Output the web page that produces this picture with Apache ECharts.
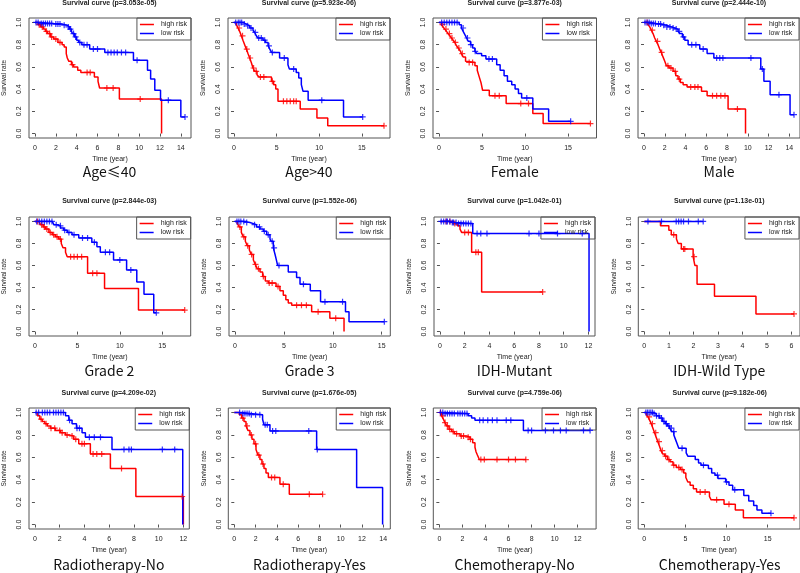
<!DOCTYPE html>
<html><head><meta charset="utf-8">
<script src="https://cdn.jsdelivr.net/npm/echarts@6/dist/echarts.min.js"></script>
<style>html,body{margin:0;padding:0;background:#fff}#c{width:800px;height:573px}</style>
</head><body><div id="c"></div><script>
// ---- labels ----
const panelLabels = ['Age≤40','Age>40','Female','Male','Grade 2','Grade 3','IDH-Mutant','IDH-Wild Type','Radiotherapy-No','Radiotherapy-Yes','Chemotherapy-No','Chemotherapy-Yes'];
const pValues = ['3.053e-05','5.923e-06','3.877e-03','2.444e-10','2.844e-03','1.552e-06','1.042e-01','1.13e-01','4.209e-02','1.676e-05','4.759e-06','9.182e-06'];
const seriesNames = ['high risk','low risk'];
const yTicks = [0,0.2,0.4,0.6,0.8,1.0];
const xTicks = [
  [0,2,4,6,8,10,12,14],[0,5,10,15],[0,5,10,15],[0,2,4,6,8,10,12,14],
  [0,5,10,15],[0,5,10,15],[0,2,4,6,8,10,12],[0,1,2,3,4,5,6],
  [0,2,4,6,8,10,12],[0,2,4,6,8,10,12,14],[0,2,4,6,8,10,12],[0,5,10,15]
];

// ---- survival curves [time, survival] ----
const ageLE40High = [[0,1],[0.3,0.98],[0.55,0.96],[0.8,0.94],[1.0,0.92],[1.2,0.9],[1.5,0.87],[1.8,0.85],[2.2,0.82],[2.6,0.8],[2.8,0.78],[3.0,0.72],[3.1,0.68],[3.25,0.65],[3.5,0.62],[3.7,0.6],[4.1,0.57],[4.4,0.55],[5.7,0.51],[6.05,0.47],[6.2,0.41],[8.1,0.31],[12.15,0.0]];
const ageLE40HighCens = [0.4,0.7,1.1,1.4,1.6,2.0,2.4,3.6,5.0,5.3,6.9,7.5,10.1];
const ageLE40Low = [[0,1],[0.5,0.99],[1.8,0.985],[2.6,0.975],[3.1,0.96],[3.3,0.94],[3.5,0.92],[3.6,0.9],[3.8,0.87],[4.0,0.84],[4.2,0.82],[4.5,0.8],[5.25,0.76],[6.7,0.73],[9.45,0.66],[10.8,0.57],[11.1,0.49],[11.5,0.39],[12.05,0.3],[14.0,0.15],[14.4,0.15]];
const ageLE40LowCens = [0.1,0.3,0.6,0.8,1.0,1.2,1.4,1.6,2.0,2.2,2.4,2.8,3.2,3.4,3.7,3.9,4.3,4.7,5.0,5.6,6.0,7.0,7.3,7.6,7.9,8.3,8.7,9.8,12.8,14.4];

const ageGT40High = [[0,1],[0.27,0.98],[0.47,0.95],[0.66,0.92],[0.86,0.88],[1.05,0.84],[1.25,0.8],[1.45,0.76],[1.64,0.72],[1.84,0.68],[2.03,0.64],[2.23,0.59],[2.42,0.56],[2.7,0.53],[2.93,0.51],[4.4,0.47],[4.65,0.44],[4.9,0.4],[5.16,0.29],[7.77,0.22],[9.73,0.14],[11.0,0.07],[17.6,0.07]];
const ageGT40HighCens = [0.6,1.0,1.5,1.9,2.3,2.6,3.1,3.5,4.5,5.8,6.2,6.6,7.0,7.3,17.6];
const ageGT40Low = [[0,1],[1.05,0.985],[1.45,0.97],[1.84,0.95],[2.23,0.93],[2.42,0.91],[2.62,0.88],[2.8,0.86],[3.4,0.84],[3.7,0.82],[4.0,0.79],[4.2,0.76],[4.4,0.73],[5.35,0.68],[6.33,0.62],[6.5,0.58],[7.3,0.55],[7.6,0.5],[7.9,0.44],[8.1,0.38],[8.7,0.3],[12.85,0.15],[15.1,0.15]];
const ageGT40LowCens = [0.2,0.5,0.7,0.9,1.2,1.6,2.0,2.5,2.9,3.2,3.6,4.1,4.5,5.9,7.0,10.3,15.1];

const femaleHigh = [[0,1],[0.27,0.98],[0.47,0.96],[0.66,0.94],[0.86,0.92],[1.05,0.9],[1.25,0.88],[1.44,0.86],[1.64,0.84],[1.83,0.82],[2.03,0.79],[2.22,0.77],[2.42,0.75],[2.6,0.72],[2.8,0.69],[3.08,0.65],[3.2,0.64],[4.17,0.61],[4.44,0.57],[4.67,0.51],[4.87,0.46],[5.06,0.39],[5.84,0.34],[7.8,0.27],[10.9,0.18],[12.1,0.09],[17.6,0.09]];
const femaleHighCens = [0.4,0.8,1.2,1.5,1.9,2.3,2.7,3.5,3.9,6.5,7.0,9.5,10.4,17.6];
const femaleLow = [[0,1],[2.34,0.98],[2.6,0.95],[2.8,0.92],[3.0,0.89],[3.2,0.86],[3.4,0.83],[3.66,0.8],[3.9,0.77],[4.17,0.74],[4.4,0.72],[4.95,0.7],[5.45,0.67],[6.7,0.62],[7.1,0.57],[7.56,0.52],[7.95,0.47],[8.45,0.44],[8.84,0.4],[9.23,0.36],[9.6,0.32],[10.9,0.22],[12.74,0.11],[15.3,0.11]];
const femaleLowCens = [0.3,0.6,0.9,1.2,1.5,1.8,2.1,2.8,3.3,3.7,4.2,5.8,6.2,10.2,15.3];

const maleHigh = [[0,1],[0.39,0.98],[0.55,0.96],[0.71,0.93],[0.87,0.9],[1.03,0.86],[1.19,0.83],[1.35,0.8],[1.51,0.76],[1.67,0.73],[1.83,0.69],[2.0,0.65],[2.16,0.61],[2.41,0.59],[2.8,0.56],[3.06,0.52],[3.28,0.49],[3.5,0.46],[3.77,0.44],[4.15,0.42],[5.54,0.38],[6.08,0.34],[8.1,0.22],[9.78,0.0]];
const maleHighCens = [0.3,0.8,1.3,1.7,2.3,2.6,3.0,3.4,4.5,4.9,5.2,6.6,7.0,7.4,7.8,9.0];
const maleLow = [[0,1],[0.6,0.99],[1.19,0.985],[1.67,0.975],[2.16,0.96],[2.64,0.95],[2.96,0.94],[3.28,0.92],[3.45,0.9],[3.7,0.87],[3.93,0.84],[4.25,0.8],[5.37,0.76],[6.08,0.72],[6.73,0.68],[11.25,0.58],[11.55,0.47],[12.15,0.35],[14.07,0.17],[14.45,0.17]];
const maleLowCens = [0.1,0.3,0.5,0.7,0.9,1.1,1.4,1.6,1.9,2.2,2.5,2.8,3.1,3.4,3.8,4.6,5.0,5.7,7.0,7.3,7.6,10.3,11.4,13.0,14.45];

const grade2High = [[0,1],[0.47,0.985],[0.66,0.97],[0.98,0.95],[1.25,0.93],[1.64,0.9],[2.03,0.88],[2.42,0.86],[2.8,0.84],[3.1,0.8],[3.3,0.76],[3.6,0.72],[3.8,0.68],[6.2,0.53],[8.2,0.39],[12.2,0.195],[17.65,0.195]];
const grade2HighCens = [0.3,0.8,1.1,1.4,1.8,2.2,2.6,3.0,4.2,4.6,5.0,5.5,6.8,7.3,17.65];
const grade2Low = [[0,1],[2.03,0.985],[2.23,0.97],[2.6,0.96],[3.0,0.94],[3.4,0.92],[3.8,0.9],[4.37,0.88],[5.16,0.85],[6.7,0.81],[7.3,0.77],[7.7,0.72],[9.26,0.65],[10.8,0.56],[12.0,0.45],[12.85,0.34],[14.0,0.17],[14.3,0.17]];
const grade2LowCens = [0.2,0.5,0.8,1.1,1.4,1.7,2.0,2.5,3.0,3.5,4.0,4.6,5.6,6.2,7.0,8.3,8.8,10.0,11.3,14.3];

const grade3High = [[0,1],[0.24,0.98],[0.44,0.95],[0.65,0.9],[0.85,0.86],[1.06,0.82],[1.26,0.78],[1.47,0.74],[1.67,0.7],[1.88,0.65],[2.08,0.61],[2.28,0.57],[2.56,0.54],[2.83,0.5],[3.1,0.46],[3.41,0.44],[4.2,0.41],[4.6,0.37],[4.94,0.33],[5.2,0.29],[5.45,0.26],[5.8,0.24],[7.84,0.18],[9.7,0.12],[11.15,0.0]];
const grade3HighCens = [0.5,0.9,1.3,1.7,2.1,2.4,2.9,3.5,3.8,4.4,6.3,6.8,7.3,8.5,10.3];
const grade3Low = [[0,1],[1.0,0.99],[1.53,0.98],[1.88,0.97],[2.2,0.95],[2.56,0.93],[2.9,0.91],[3.24,0.88],[3.58,0.84],[3.68,0.82],[3.92,0.76],[4.1,0.7],[4.26,0.64],[4.36,0.6],[5.45,0.54],[6.3,0.49],[6.65,0.43],[7.7,0.37],[8.75,0.27],[11.3,0.18],[11.66,0.09],[15.27,0.09]];
const grade3LowCens = [0.2,0.4,0.6,0.9,1.2,2.0,2.5,3.0,3.4,3.8,4.0,4.5,7.0,9.2,11.0,15.27];

const idhMutHigh = [[0,1],[1.08,0.98],[1.4,0.96],[1.62,0.93],[1.75,0.9],[2.56,0.72],[3.37,0.36],[8.3,0.36]];
const idhMutHighCens = [0.5,0.8,1.2,2.0,2.3,2.9,3.1,8.3];
const idhMutLow = [[0,1],[0.81,0.99],[1.3,0.98],[2.65,0.89],[12.05,0.0]];
const idhMutLowCens = [0.1,0.3,0.5,0.6,0.8,1.0,1.1,1.3,1.5,1.7,1.9,2.1,2.3,2.5,3.0,3.3,3.8,7.2,8.0,9.5,11.5];

const idhWtHigh = [[0,1],[0.66,0.96],[1.0,0.92],[1.1,0.88],[1.31,0.84],[1.38,0.8],[1.51,0.75],[1.99,0.68],[2.06,0.6],[2.15,0.43],[2.86,0.32],[4.55,0.16],[6.1,0.16]];
const idhWtHighCens = [1.2,1.6,1.65,2.03,6.1];
const idhWtLow = [[0,1],[2.4,1]];
const idhWtLowCens = [0.15,0.7,1.3,1.4,1.5,1.6,1.8,2.2,2.4];

const radioNoHigh = [[0,1],[0.19,0.97],[0.4,0.94],[0.59,0.92],[0.8,0.9],[1.0,0.88],[1.26,0.86],[1.66,0.84],[2.07,0.82],[2.47,0.8],[2.74,0.79],[3.14,0.76],[3.54,0.72],[4.48,0.63],[6.1,0.5],[8.16,0.25],[12.0,0.0]];
const radioNoHighCens = [0.5,0.9,1.3,1.6,2.0,2.2,2.6,3.0,3.3,3.8,4.0,4.7,5.0,5.4,7.0,11.9];
const radioNoLow = [[0,1],[2.47,0.97],[2.74,0.93],[3.0,0.9],[3.36,0.86],[3.81,0.82],[4.08,0.78],[6.23,0.67],[11.95,0.0]];
const radioNoLowCens = [0.1,0.3,0.6,0.8,1.0,1.2,1.5,1.7,1.9,2.1,2.3,2.8,3.4,3.6,4.4,4.8,5.3,7.2,7.6,7.8,10.3,11.3];

const radioYesHigh = [[0,1],[0.47,0.98],[0.69,0.95],[0.91,0.92],[1.1,0.88],[1.28,0.84],[1.47,0.8],[1.66,0.76],[1.85,0.72],[2.04,0.67],[2.22,0.62],[2.41,0.58],[2.6,0.54],[2.79,0.5],[2.98,0.46],[3.2,0.42],[4.29,0.36],[5.17,0.27],[8.3,0.27]];
const radioYesHighCens = [0.8,1.2,1.6,2.0,2.3,2.7,3.5,3.8,4.6,7.05,8.3];
const radioYesLow = [[0,1],[0.69,0.99],[1.5,0.98],[2.66,0.94],[2.79,0.89],[3.35,0.835],[7.74,0.67],[11.5,0.33],[13.94,0.0]];
const radioYesLowCens = [0.5,0.8,1.0,1.2,1.4,1.6,2.0,2.4,2.9,3.1,3.6,3.9,7.0,7.8];

const chemoNoHigh = [[0,1],[0.2,0.97],[0.35,0.94],[0.49,0.91],[0.64,0.88],[0.84,0.85],[1.07,0.83],[1.3,0.81],[1.8,0.79],[2.37,0.78],[2.66,0.76],[2.89,0.73],[3.09,0.69],[3.18,0.65],[3.3,0.62],[3.47,0.58],[7.52,0.58]];
const chemoNoHighCens = [0.1,0.3,0.5,0.7,0.9,1.2,1.5,1.9,2.1,2.5,2.7,3.6,3.9,5.0,6.0,6.6,7.5];
const chemoNoLow = [[0,1],[0.35,0.99],[2.5,0.97],[2.8,0.95],[3.09,0.93],[7.29,0.84],[13.07,0.84]];
const chemoNoLowCens = [0.1,0.3,0.5,0.7,0.9,1.1,1.3,1.6,1.8,2.0,2.2,2.4,3.5,3.8,4.2,4.6,5.0,5.8,6.2,7.7,8.0,9.2,9.9,10.5,11.0,12.5,13.07];

const chemoYesHigh = [[0,1],[0.27,0.98],[0.47,0.96],[0.67,0.93],[0.86,0.9],[1.06,0.86],[1.26,0.82],[1.45,0.78],[1.65,0.74],[1.85,0.7],[2.04,0.66],[2.24,0.63],[2.5,0.61],[2.83,0.58],[3.14,0.56],[3.5,0.53],[3.9,0.51],[4.4,0.49],[4.8,0.46],[5.06,0.42],[5.3,0.38],[5.58,0.35],[5.97,0.32],[6.36,0.29],[7.93,0.25],[8.13,0.22],[9.7,0.18],[11.07,0.13],[12.05,0.06],[18.2,0.06]];
const chemoYesHighCens = [0.6,1.0,1.4,1.8,2.2,2.6,3.0,3.6,4.2,4.6,6.8,7.4,8.8,10.3,18.2];
const chemoYesLow = [[0,1],[1.06,0.99],[1.45,0.97],[1.85,0.95],[2.24,0.92],[2.56,0.9],[2.83,0.88],[3.1,0.86],[3.34,0.83],[3.6,0.8],[3.8,0.76],[4.0,0.72],[4.2,0.68],[5.1,0.64],[5.3,0.61],[6.2,0.58],[6.6,0.55],[6.9,0.53],[7.8,0.5],[8.2,0.46],[8.6,0.44],[8.96,0.41],[9.9,0.38],[10.3,0.35],[10.75,0.31],[12.1,0.26],[12.7,0.21],[13.3,0.17],[13.7,0.13],[14.3,0.1],[15.4,0.1]];
const chemoYesLowCens = [0.2,0.4,0.6,0.8,1.0,1.2,1.5,1.8,2.1,2.4,2.7,3.0,3.3,3.6,4.6,7.2,8.9,10.0,11.0,15.4];

const panelData = [
  [ageLE40High, ageLE40HighCens, ageLE40Low, ageLE40LowCens],
  [ageGT40High, ageGT40HighCens, ageGT40Low, ageGT40LowCens],
  [femaleHigh, femaleHighCens, femaleLow, femaleLowCens],
  [maleHigh, maleHighCens, maleLow, maleLowCens],
  [grade2High, grade2HighCens, grade2Low, grade2LowCens],
  [grade3High, grade3HighCens, grade3Low, grade3LowCens],
  [idhMutHigh, idhMutHighCens, idhMutLow, idhMutLowCens],
  [idhWtHigh, idhWtHighCens, idhWtLow, idhWtLowCens],
  [radioNoHigh, radioNoHighCens, radioNoLow, radioNoLowCens],
  [radioYesHigh, radioYesHighCens, radioYesLow, radioYesLowCens],
  [chemoNoHigh, chemoNoHighCens, chemoNoLow, chemoNoLowCens],
  [chemoYesHigh, chemoYesHighCens, chemoYesLow, chemoYesLowCens]
];

// ---- layout (pixels) ----
const layout = [
  {left:28, top:18, width:163, height:120, xmin:-0.576, xmax:14.976},
  {left:228, top:18, width:162, height:120, xmin:-0.704, xmax:18.304},
  {left:433, top:18, width:163.5, height:120, xmin:-0.704, xmax:18.304},
  {left:638, top:18, width:162, height:120, xmin:-0.578, xmax:15.028},
  {left:28, top:217, width:162.7, height:119, xmin:-0.706, xmax:18.356},
  {left:229, top:217, width:161.3, height:119, xmin:-0.611, xmax:15.881},
  {left:434, top:217, width:161, height:119, xmin:-0.482, xmax:12.532},
  {left:638.3, top:217, width:162, height:119, xmin:-0.244, xmax:6.344},
  {left:28.3, top:408, width:161, height:121, xmin:-0.48, xmax:12.48},
  {left:228.3, top:408, width:162, height:121, xmin:-0.564, xmax:14.664},
  {left:433.3, top:408, width:162.8, height:121, xmin:-0.523, xmax:13.593},
  {left:638.2, top:408, width:163, height:121, xmin:-0.728, xmax:18.928}
];
const titleTop = [0, 198, 390];
const subTitleCenter = [172, 371, 565];

const RED = '#ff0000', BLUE = '#0000ff';
const FONT = '"Liberation Sans", Arial, sans-serif';
const CROSS = 'path://M4,0H6V4H10V6H6V10H4V6H0V4H4Z';

function stepAt(curve, t) {
  let y = 1;
  for (const [x, v] of curve) { if (x < t) y = v; else break; }
  return y;
}

const grids = [], xAxes = [], yAxes = [], series = [], titles = [], legends = [];
layout.forEach((L, i) => {
  const row = Math.floor(i / 4);
  grids.push({left: L.left, top: L.top, width: L.width, height: L.height, show: true,
    borderColor: '#555', borderWidth: 1, backgroundColor: 'transparent', containLabel: false});
  xAxes.push({type: 'value', gridIndex: i, min: L.xmin, max: L.xmax,
    name: 'Time (year)', nameLocation: 'middle', nameGap: 18,
    nameTextStyle: {fontSize: 7, color: '#222', fontFamily: FONT},
    axisLine: {show: false}, splitLine: {show: false},
    axisTick: {show: true, inside: false, length: 3, lineStyle: {color: '#555', width: 1}, customValues: xTicks[i]},
    axisLabel: {fontSize: 7, color: '#222', fontFamily: FONT, margin: 7, customValues: xTicks[i]}
  });
  yAxes.push({type: 'value', gridIndex: i, min: -0.04, max: 1.04,
    name: 'Survival rate', nameLocation: 'middle', nameGap: 21, nameRotate: 90,
    nameTextStyle: {fontSize: 6.5, color: '#222', fontFamily: FONT},
    axisLine: {show: false}, splitLine: {show: false},
    axisTick: {show: true, inside: false, length: 3, lineStyle: {color: '#555', width: 1}, customValues: yTicks},
    axisLabel: {fontSize: 7, color: '#222', fontFamily: FONT, margin: 6, rotate: 90,
      customValues: yTicks, formatter: v => Number(v).toFixed(1)}
  });
  const [hi, hiC, lo, loC] = panelData[i];
  const mk = (name, curve, color) => ({type: 'line', name, xAxisIndex: i, yAxisIndex: i, step: 'end',
    data: curve, symbol: 'none', lineStyle: {color, width: 1.5}, itemStyle: {color}, silent: true, z: 3});
  const mc = (name, curve, times, color) => ({type: 'scatter', name, xAxisIndex: i, yAxisIndex: i,
    data: times.map(t => [t, stepAt(curve, t)]), symbol: CROSS, symbolSize: 6,
    itemStyle: {color}, silent: true, z: 4});
  series.push(mk(seriesNames[0], hi, RED), mk(seriesNames[1], lo, BLUE),
    mc('high censor', hi, hiC, RED), mc('low censor', lo, loC, BLUE));
  const cx = L.left + L.width / 2;
  titles.push({text: 'Survival curve (p=' + pValues[i] + ')', left: cx, top: titleTop[row], textAlign: 'center', padding: 0,
    textStyle: {fontSize: 7, fontWeight: 'bold', color: '#222', fontFamily: FONT}});
  titles.push({text: panelLabels[i], left: cx, top: subTitleCenter[row] - 9, textAlign: 'center', padding: 0,
    textStyle: {fontSize: 14, fontWeight: 'normal', color: '#111', fontFamily: '"Noto Sans CJK SC", "Noto Sans", sans-serif', lineHeight: 18}});
  legends.push({data: seriesNames, orient: 'vertical', right: Math.max(1, 800 - (L.left + L.width)), top: L.top,
    icon: 'rect', itemWidth: 14, itemHeight: 1.5, itemGap: 2, padding: [3, 4, 3, 3],
    borderColor: '#555', borderWidth: 1, backgroundColor: 'transparent',
    textStyle: {fontSize: 7, color: '#222', fontFamily: FONT, padding: [0, 0, 0, 2]}, selectedMode: false});
});

const chart = echarts.init(document.getElementById('c'), null, {renderer: 'canvas'});
chart.setOption({
  backgroundColor: '#fff', animation: false,
  title: titles, legend: legends, grid: grids, xAxis: xAxes, yAxis: yAxes, series
});
</script></body></html>
